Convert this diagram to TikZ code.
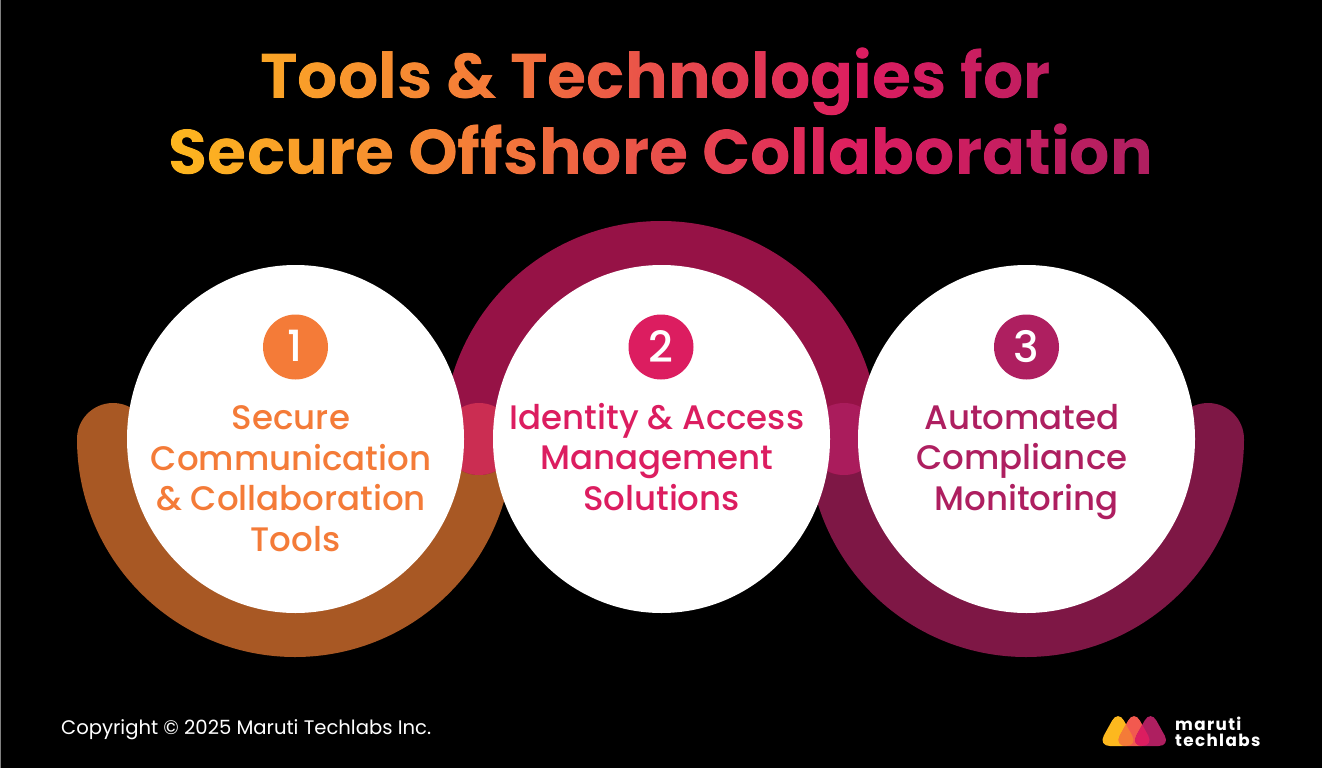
\documentclass[tikz,border=0pt]{standalone}
\usepackage{fontspec}
\usetikzlibrary{fadings}
\setmainfont{Poppins}
\newfontfamily\pmed{Poppins Medium}
\newfontfamily\pbold{Poppins Bold}
\definecolor{ringA}{HTML}{A85824}
\definecolor{ringB}{HTML}{961246}
\definecolor{ringC}{HTML}{7E1745}
\definecolor{overA}{HTML}{CB2D52}
\definecolor{overB}{HTML}{AA1C5C}
\definecolor{cA}{HTML}{F47B38}
\definecolor{cB}{HTML}{DC1D60}
\definecolor{cC}{HTML}{AE1F60}
\definecolor{cY}{HTML}{FDB81E}
\definecolor{cR}{HTML}{F2594F}
\pgfdeclarehorizontalshading{titlegrad}{100bp}{color(0bp)=(cY); color(25bp)=(cY); color(41bp)=(cA); color(60bp)=(cB); color(75bp)=(cC); color(100bp)=(cC)}
\begin{tikzfadingfrompicture}[name=titlefade,x=1pt,y=-1pt]
\node[text=transparent!0,font={\pbold\fontsize{63.5}{63.5}\selectfont},anchor=base] at (-6.5,-19) {Tools \& Technologies for};
\node[text=transparent!0,font={\pbold\fontsize{63.5}{63.5}\selectfont},anchor=base] at (-1,57) {Secure Offshore Collaboration};
\end{tikzfadingfrompicture}
\tikzset{
 ring/.style={line width=72pt,line cap=round},
 label/.style={align=center,font={\pmed\fontsize{34}{40.6}\selectfont}},
 numdisc/.style={circle,inner sep=0pt,minimum size=65pt,text=white,font={\pmed\fontsize{43}{43}\selectfont}},
 logotext/.style={text=white,anchor=base west,inner sep=0pt,font={\pbold\fontsize{16.8}{17}\selectfont\addfontfeature{LetterSpace=8}}},
 tri/.style={rounded corners=12pt},
}
\begin{document}
\begin{tikzpicture}[x=1pt,y=-1pt]
\useasboundingbox (0,0) rectangle (1322,768);
\fill[black] (0,0) rectangle (1322,768);
\draw[color=black!50,line width=1pt] (0,0) rectangle (1322,768);
% rings
\draw[ring,ringA] (113,439) arc[start angle=180,end angle=0,x radius=182,y radius=182];
\draw[ring,ringC] (844,439) arc[start angle=180,end angle=0,x radius=182,y radius=182];
\draw[ring,ringB] (479,439) arc[start angle=180,end angle=0,x radius=182,y radius=-182];
\fill[overA] (479,439) circle[radius=36];
\fill[overB] (844,439) circle[radius=36];
% white discs
\foreach \cx in {295.5,661.5,1026.5} {\fill[white] (\cx,439) ellipse[x radius=168.5,y radius=174];}
% title
\shade[shading=titlegrad,path fading=titlefade,fit fading=false,fading transform={shift={(661,111)}}] (165,30) rectangle (1157,200);
% numbers
\node[numdisc,fill=cA] (n1) at (295.5,347) {\raisebox{1.5pt}{1}};
\node[numdisc,fill=cB] (n2) at (661,347) {\raisebox{1.5pt}{2}};
\node[numdisc,fill=cC] (n3) at (1026.5,347) {\raisebox{1.5pt}{3}};
% labels
\node[label,text=cA,anchor=base] (l1) at (291,551.5) {Secure\\Communication\\\& Collaboration\\\hspace*{9pt}Tools};
\node[label,text=cB,anchor=base] (l2) at (657,510.5) {Identity \& Access\\Management\\\hspace*{9pt}Solutions};
\node[label,text=cC,anchor=base] (l3) at (1022,510.5) {Automated\\Compliance\\\hspace*{9pt}Monitoring};
% footer
\node[text=white,anchor=base west,inner sep=0pt,font={\fontsize{19.6}{19.6}\selectfont}] (copy) at (61,734) {Copyright © 2025 Maruti Techlabs Inc.};
% logo
\fill[cY,tri] (1118,710) -- (1098,746) -- (1138,746) -- cycle;
\fill[cR,tri] (1134,710) -- (1114,746) -- (1154,746) -- cycle;
\fill[cC,tri] (1150.5,710) -- (1130.5,746) -- (1170.5,746) -- cycle;
\begin{scope}
\clip[tri] (1118,710) -- (1098,746) -- (1138,746) -- cycle;
\fill[cA,tri] (1134,710) -- (1114,746) -- (1154,746) -- cycle;
\end{scope}
\begin{scope}
\clip[tri] (1134,710) -- (1114,746) -- (1154,746) -- cycle;
\fill[cB,tri] (1150.5,710) -- (1130.5,746) -- (1170.5,746) -- cycle;
\end{scope}
\node[logotext] (m1) at (1175,730) {maruti};
\node[logotext] (m2) at (1175,746) {techlabs};
\end{tikzpicture}
\end{document}
